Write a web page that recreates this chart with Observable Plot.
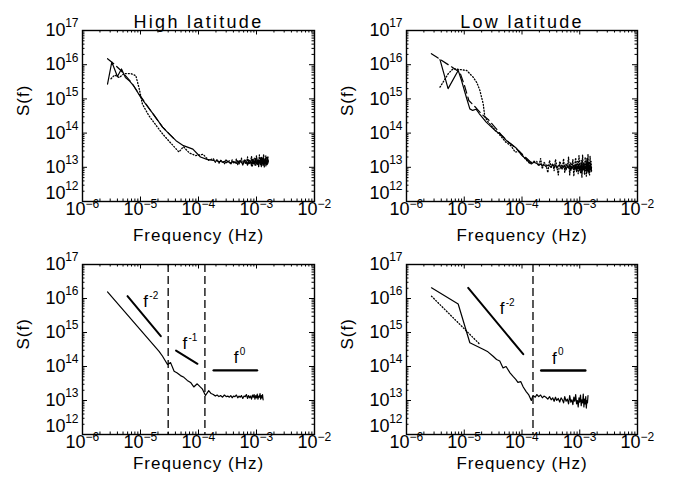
<!DOCTYPE html>
<html><head><meta charset="utf-8">
<script src="https://cdn.jsdelivr.net/npm/d3@7"></script>
<script src="https://cdn.jsdelivr.net/npm/@observablehq/plot@0.6"></script>
<style>
html,body{margin:0;padding:0;background:#fff;}
#chart{position:relative;width:673px;height:485px;overflow:hidden;background:#fff;}
#chart svg{position:absolute;}
</style></head><body><div id="chart"></div>
<script>
// ---------- axis ticks / labels ----------
const xTicks = [1e-6, 1e-5, 1e-4, 1e-3, 1e-2];
const xTickExp = ["\u22126", "\u22125", "\u22124", "\u22123", "\u22122"];
const yTicks = [1e12, 1e13, 1e14, 1e15, 1e16, 1e17];
const yTickExp = ["12", "13", "14", "15", "16", "17"];
const titles = ["High latitude", "Low latitude"];
const xLabel = "Frequency (Hz)";
const yLabel = "S(f)";

// ---------- shared high-frequency grid (Hz) ----------
const tailF = [1.8e-4,1.95e-4,2.1e-4,2.25e-4,2.4e-4,2.6e-4,2.8e-4,3.0e-4,3.2e-4,3.4e-4,
  3.6e-4,3.8e-4,4.0e-4,4.25e-4,4.5e-4,4.75e-4,5.0e-4,5.25e-4,5.5e-4,5.8e-4,
  6.1e-4,6.4e-4,6.7e-4,7.0e-4,7.3e-4,7.6e-4,7.9e-4,8.2e-4,8.5e-4,8.8e-4,
  9.1e-4,9.4e-4,9.7e-4,1.0e-3,1.03e-3,1.06e-3,1.09e-3,1.12e-3,1.15e-3,1.18e-3,
  1.21e-3,1.24e-3,1.27e-3,1.3e-3,1.33e-3,1.36e-3,1.39e-3,1.42e-3,1.45e-3,1.48e-3,
  1.51e-3,1.54e-3,1.57e-3,1.6e-3];

// ---------- High latitude, top panel ----------
const hiSolidF = [2.7e-6,3.2e-6,4.0e-6,4.7e-6,5.5e-6,6.5e-6,7.5e-6,1.0e-5,1.3e-5,1.7e-5,2.4e-5,3.2e-5,4.1e-5,5.5e-5,8e-5,1.08e-4,1.4e-4];
const hiSolidS = [2.7e15,1.2e16,4.5e15,7.5e15,4.2e15,3.3e15,2.5e15,1.15e15,6.2e14,3.4e14,1.5e14,9e13,6e13,4.3e13,3.4e13,2.0e13,1.7e13];
const hiSolidTail = [1.6,1.5,1.55,1.45,1.5,1.4,1.5,1.35,1.45,1.4,
  1.3,1.5,1.35,1.45,1.3,1.55,1.25,1.5,1.4,1.2,
  1.6,1.3,1.45,1.15,1.65,1.3,1.5,1.1,1.7,1.25,
  1.55,1.15,1.8,1.3,1.2,1.75,1.1,1.6,1.35,1.9,
  1.05,1.7,1.25,2.0,1.15,1.55,1.3,1.85,1.1,1.65,
  1.2,1.9,1.3,1.5]; // x 1e13
const hiDashF = [2.7e-6,3.5e-6,4.5e-6,5.5e-6,7e-6,1.0e-5,1.5e-5,2.4e-5,4e-5];
const hiDashS = [1.5e16,1.05e16,7e15,4.8e15,3.0e15,1.2e15,4.5e14,1.5e14,6.2e13];
const hiDotF = [3.1e-6,3.6e-6,4.3e-6,5.2e-6,6.8e-6,8.3e-6,9.5e-6,1.08e-5,1.4e-5,1.9e-5,2.4e-5,3.2e-5,4.6e-5,5.5e-5,7e-5,9e-5,1.2e-4,1.5e-4];
const hiDotS = [3.9e15,5e15,4.2e15,5.5e15,5.5e15,4.8e15,2.0e15,7e14,3.2e14,1.6e14,9.5e13,5.5e13,2.8e13,4e13,2.6e13,2.2e13,2.4e13,1.6e13];
const hiDotTail = [1.8,1.4,1.7,1.3,1.6,1.5,1.25,1.7,1.4,1.55,
  1.2,1.65,1.45,1.3,1.75,1.2,1.6,1.4,1.85,1.15,
  1.5,1.7,1.3,2.0,1.2,1.6,1.4,2.1,1.1,1.75,
  1.35,1.95,1.15,2.2,1.3,1.6,1.05,2.3,1.4,1.2,
  2.0,1.1,1.8,1.5,2.4,1.0,1.7,1.3,2.2,1.15,
  1.9,1.25,2.1,1.4];

// ---------- Low latitude, top panel ----------
const loSolidF = [3.8e-6,5.25e-6,7.85e-6,8.95e-6,1.09e-5,1.25e-5,1.4e-5,1.6e-5,1.8e-5,2.4e-5,3.4e-5,4.1e-5,5.4e-5,6.5e-5,8e-5,1.0e-4,1.2e-4,1.45e-4,1.6e-4];
const loSolidS = [1.4e16,2e15,6.8e15,3.5e15,1.1e15,5.1e14,4.6e14,5e14,3.8e14,2.1e14,1.2e14,9.6e13,6e13,4.8e13,3.6e13,2.2e13,1.7e13,1.25e13,1.4e13];
const loSolidTail = [1.3,1.15,1.25,1.1,1.2,1.05,1.15,1.1,1.0,1.2,
  1.05,1.15,0.95,1.1,1.2,0.9,1.1,1.0,1.15,0.85,
  1.1,0.95,1.2,0.8,1.05,0.95,1.15,0.85,1.2,0.75,
  1.1,0.9,1.25,0.8,1.0,1.3,0.7,1.1,0.85,1.35,
  0.75,1.05,0.9,1.4,0.7,1.15,0.8,1.3,0.65,1.1,
  0.85,1.25,0.75,1.0];
const loDashF = [2.7e-6,8.4e-6,1.0e-5,1.2e-5,1.6e-5,2.0e-5,2.6e-5,3.5e-5,4.5e-5,6e-5,8e-5,1.1e-4,1.5e-4];
const loDashS = [2.1e16,6e15,2.6e15,9e14,5.5e14,3.6e14,2.5e14,1.4e14,8.5e13,5.2e13,3.5e13,2.1e13,1.3e13];
const loDotF = [3.8e-6,4.5e-6,5.3e-6,6.4e-6,8e-6,1.1e-5,1.43e-5,1.65e-5,1.86e-5,2.13e-5,2.27e-5,2.6e-5,3.2e-5,4.2e-5,5.2e-5,6.5e-5,7.6e-5,9e-5,1.1e-4,1.35e-4,1.6e-4];
const loDotS = [2.2e15,3.5e15,5.5e15,7.6e15,7.3e15,6.8e15,4.3e15,3e15,1.8e15,7.2e14,3e14,2.1e14,1.4e14,8.5e13,5.5e13,4.2e13,2.8e13,2.9e13,1.9e13,1.3e13,1.5e13];
const loDotTail = [1.5,1.1,1.8,0.9,1.4,1.2,0.7,1.6,1.0,1.3,
  0.8,1.7,1.1,0.6,1.5,1.2,0.9,1.8,0.7,1.3,
  1.0,2.0,0.6,1.4,0.9,1.7,0.55,1.2,1.9,0.8,
  1.5,0.65,2.2,1.0,0.7,1.6,0.5,2.3,0.9,1.3,
  0.6,2.0,1.1,0.55,1.8,0.8,2.4,0.7,1.4,0.6,
  2.1,0.9,1.5,0.75];

// ---------- High latitude, bottom panel ----------
const hiFitF = [2.7e-6,2.09e-5,2.4e-5,2.92e-5,3.3e-5,3.8e-5,4.3e-5,4.9e-5,5.6e-5,6.4e-5,7.3e-5,8.3e-5,9.5e-5,1.05e-4,1.16e-4,1.32e-4,1.5e-4,1.65e-4];
const hiFitS = [1.57e16,2.8e14,2.0e14,1.15e14,1.3e14,7.2e13,6.4e13,5.4e13,4.8e13,3.9e13,3.4e13,2.5e13,3.1e13,2.6e13,2.2e13,1.4e13,1.95e13,1.6e13];
const hiFitTail = [1.5,1.35,1.45,1.3,1.4,1.25,1.45,1.3,1.35,1.25,
  1.4,1.2,1.35,1.3,1.45,1.2,1.35,1.25,1.4,1.15,
  1.35,1.3,1.5,1.15,1.4,1.2,1.35,1.1,1.45,1.25,
  1.5,1.1,1.4,1.2,1.55,1.1,1.35,1.25,1.6,1.1,
  1.4,1.2,1.5,1.05,1.45,1.2,1.55,1.1,1.35,1.25,
  1.5,1.15,1.4,1.3];
const hiBreaks = [3.0e-5, 1.29e-4];
const hiRefM2 = [[5.97e-6, 1.17e16], [2.24e-5, 7.8e14]];
const hiRefM1 = [[4.1e-5, 2.95e14], [9.6e-5, 1.2e14]];
const hiRef0 = [[1.83e-4, 7.7e13], [1.02e-3, 7.7e13]];
const hiRefLabels = [{f: 1.12e-5, s: 8e15, exp: "-2"}, {f: 5.3e-5, s: 4.8e14, exp: "-1"}, {f: 4.07e-4, s: 1.86e14, exp: "0"}];

// ---------- Low latitude, bottom panel ----------
const loFitF = [2.71e-6,7.85e-6,1.25e-5,2.12e-5,2.57e-5,3.16e-5,3.63e-5,4.12e-5,4.7e-5,5.3e-5,6.2e-5,7e-5,7.8e-5,8.5e-5,9.5e-5,1.05e-4,1.19e-4,1.3e-4,1.45e-4,1.55e-4,1.7e-4];
const loFitS = [2.06e16,6.9e15,5e14,3.2e14,2.7e14,2.0e14,1.6e14,1.45e14,9.1e13,1.0e14,6.5e13,5.1e13,4.2e13,3.4e13,3.6e13,2.5e13,1.8e13,1.5e13,1.0e13,1.4e13,1.25e13];
const loFitTail = [1.5,1.3,1.45,1.2,1.35,1.25,1.1,1.3,1.05,1.2,
  0.95,1.25,1.0,1.15,0.9,1.2,1.05,0.85,1.3,0.95,
  1.1,0.8,1.4,0.9,1.05,0.75,1.25,0.95,1.5,0.8,
  1.0,0.65,1.2,0.9,1.45,0.7,1.05,0.85,1.55,0.65,
  1.1,0.8,1.3,0.6,1.0,0.85,1.4,0.7,1.2,0.9,
  1.3,0.75,1.1,0.9];
const loFitDotF = [2.71e-6, 1.86e-5];
const loFitDotS = [1.17e16, 4.5e14];
const loBreaks = [1.55e-4];
const loRefM2 = [[1.17e-5, 2.05e16], [1.05e-4, 2.3e14]];
const loRef0 = [[2.15e-4, 7.6e13], [1.25e-3, 7.6e13]];
const loRefLabels = [{f: 4.1e-5, s: 5.1e15, exp: "-2"}, {f: 3.3e-4, s: 1.75e14, exp: "0"}];

// ---------- helpers ----------
const pairs = (fs, ss) => fs.map((f, i) => [f, ss[i]]);
const tail = (vals, end) => tailF.map((f, i) => [f, vals[i] * 1e13]).filter(d => d[0] <= end + 1e-9);
const xMinor = [], yMinor = [];
for (let e = -6; e < -2; e++) for (let k = 2; k <= 9; k++) xMinor.push(k * Math.pow(10, e));
for (let e = 12; e < 17; e++) for (let k = 2; k <= 9; k++) yMinor.push(k * Math.pow(10, e));

const FONT = "'Liberation Sans', Arial, Helvetica, sans-serif";
const lineOpts = (extra) => Object.assign({x: d => d[0], y: d => d[1], stroke: "black", strokeWidth: 1.2, strokeLinejoin: "round"}, extra || {});

function panel({left, top, width, height, mt, mr, mb, ml, title, xlabDy, marks}) {
  const iw = width - ml - mr, ih = height - mt - mb;
  const tk = [
    Plot.tickX(xTicks, {x: d => d, insetTop: ih - 4.5, stroke: "black", strokeWidth: 1}),
    Plot.tickX(xTicks, {x: d => d, insetBottom: ih - 4.5, stroke: "black", strokeWidth: 1}),
    Plot.tickX(xMinor, {x: d => d, insetTop: ih - 2.5, stroke: "black", strokeWidth: 1}),
    Plot.tickX(xMinor, {x: d => d, insetBottom: ih - 2.5, stroke: "black", strokeWidth: 1}),
    Plot.tickY(yTicks, {y: d => d, insetRight: iw - 5, stroke: "black", strokeWidth: 1}),
    Plot.tickY(yTicks, {y: d => d, insetLeft: iw - 5, stroke: "black", strokeWidth: 1}),
    Plot.tickY(yMinor, {y: d => d, insetRight: iw - 2.5, stroke: "black", strokeWidth: 1}),
    Plot.tickY(yMinor, {y: d => d, insetLeft: iw - 2.5, stroke: "black", strokeWidth: 1}),
    Plot.frame({stroke: "black", strokeWidth: 1.4}),
    // x tick labels
    Plot.text(xTicks, {x: d => d, frameAnchor: "bottom", dy: 13, dx: -7, text: () => "10", fontSize: 18, fill: "black"}),
    Plot.text(xTicks, {x: d => d, frameAnchor: "bottom", dy: 6, dx: 3, textAnchor: "start", text: d => xTickExp[xTicks.indexOf(d)], fontSize: 12, fill: "black"}),
    // y tick labels
    Plot.text(yTicks.slice(1), {y: d => d, frameAnchor: "left", dx: -17, textAnchor: "end", text: () => "10", fontSize: 18, fill: "black"}),
    Plot.text(yTicks.slice(1), {y: d => d, frameAnchor: "left", dx: -4, dy: -7, textAnchor: "end", text: d => yTickExp[yTicks.indexOf(d)], fontSize: 12, fill: "black"}),
    Plot.text(yTicks.slice(0, 1), {y: d => d, frameAnchor: "left", dx: -17, dy: -8, textAnchor: "end", text: () => "10", fontSize: 18, fill: "black"}),
    Plot.text(yTicks.slice(0, 1), {y: d => d, frameAnchor: "left", dx: -4, dy: -15, textAnchor: "end", text: d => yTickExp[yTicks.indexOf(d)], fontSize: 12, fill: "black"}),
    // axis labels
    Plot.text([xLabel], {frameAnchor: "bottom", dy: xlabDy, text: d => d, fontSize: 17, fill: "black"}),
    Plot.text([yLabel], {frameAnchor: "left", dx: -59, rotate: -90, text: d => d, fontSize: 17, fill: "black"})
  ];
  if (title) tk.push(Plot.text([title], {frameAnchor: "top", dy: -15, text: d => d, fontSize: 18, fill: "black"}));
  const svg = Plot.plot({
    width, height, marginTop: mt, marginRight: mr, marginBottom: mb, marginLeft: ml,
    x: {type: "log", domain: [1e-6, 1e-2], axis: null},
    y: {type: "log", domain: [1e12, 1e17], axis: null},
    style: {fontFamily: FONT, background: "transparent", overflow: "visible", color: "black"},
    marks: [...marks, ...tk]
  });
  svg.style.left = left + "px";
  svg.style.top = top + "px";
  // wide letter spacing of the original's vector font
  d3.select(svg).selectAll("text").each(function () {
    const t = this.textContent;
    if (t === title) this.style.letterSpacing = "2.3px";
    else if (t === xLabel || t === yLabel) this.style.letterSpacing = "1px";
  });
  document.getElementById("chart").appendChild(svg);
}

const refText = (labels) => [
  Plot.text(labels, {x: "f", y: "s", text: () => "f", textAnchor: "start", fontSize: 17, fill: "black"}),
  Plot.text(labels, {x: "f", y: "s", text: "exp", textAnchor: "start", dx: 6, dy: -6, fontSize: 10, fill: "black"})
];

// Top-left: High latitude
panel({left: 0, top: 0, width: 336, height: 250, mt: 30, mr: 22, mb: 49, ml: 82, title: titles[0], xlabDy: 39,
  marks: [
    Plot.line(pairs(hiDotF, hiDotS).concat(tail(hiDotTail, 1.6e-3)), lineOpts({strokeDasharray: "1,2", strokeWidth: 1.3})),
    Plot.line(pairs(hiDashF, hiDashS), lineOpts({strokeDasharray: "8,4"})),
    Plot.line(pairs(hiSolidF, hiSolidS).concat(tail(hiSolidTail, 1.6e-3)), lineOpts())
  ]});

// Top-right: Low latitude
panel({left: 336, top: 0, width: 337, height: 250, mt: 30, mr: 36, mb: 49, ml: 70, title: titles[1], xlabDy: 39,
  marks: [
    Plot.line(pairs(loDotF, loDotS).concat(tail(loDotTail, 1.6e-3)), lineOpts({strokeDasharray: "1,2", strokeWidth: 1.3})),
    Plot.line(pairs(loDashF, loDashS), lineOpts({strokeDasharray: "8,4"})),
    Plot.line(pairs(loSolidF, loSolidS).concat(tail(loSolidTail, 1.6e-3)), lineOpts())
  ]});

// Bottom-left
panel({left: 0, top: 250, width: 336, height: 235, mt: 14, mr: 22, mb: 51, ml: 82, title: null, xlabDy: 34,
  marks: [
    Plot.ruleX(hiBreaks, {x: d => d, stroke: "black", strokeWidth: 1.3, strokeDasharray: "8,4"}),
    Plot.line(pairs(hiFitF, hiFitS).concat(tail(hiFitTail, 1.3e-3)), lineOpts()),
    Plot.line(hiRefM2, lineOpts({strokeWidth: 2})),
    Plot.line(hiRefM1, lineOpts({strokeWidth: 2})),
    Plot.line(hiRef0, lineOpts({strokeWidth: 2.4})),
    ...refText(hiRefLabels)
  ]});

// Bottom-right
panel({left: 336, top: 250, width: 337, height: 235, mt: 14, mr: 36, mb: 51, ml: 70, title: null, xlabDy: 34,
  marks: [
    Plot.ruleX(loBreaks, {x: d => d, stroke: "black", strokeWidth: 1.3, strokeDasharray: "8,4"}),
    Plot.line(pairs(loFitDotF, loFitDotS), lineOpts({strokeDasharray: "1,2", strokeWidth: 1.3})),
    Plot.line(pairs(loFitF, loFitS).concat(tail(loFitTail, 1.39e-3)), lineOpts()),
    Plot.line(loRefM2, lineOpts({strokeWidth: 2})),
    Plot.line(loRef0, lineOpts({strokeWidth: 2.4})),
    ...refText(loRefLabels)
  ]});
</script></body></html>
